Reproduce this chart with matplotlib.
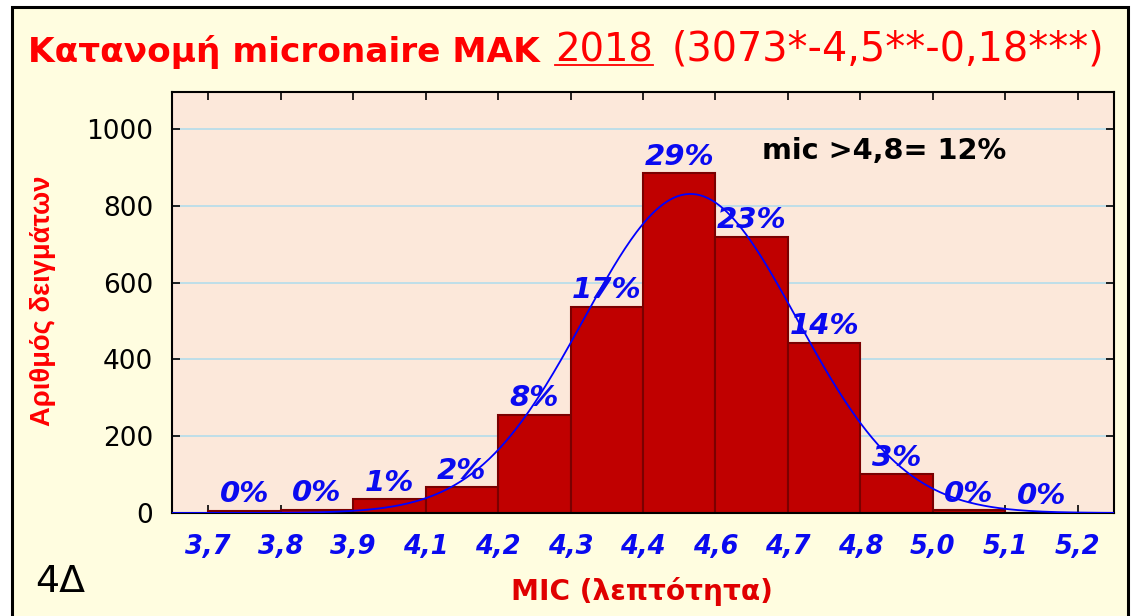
import numpy as np
import matplotlib
matplotlib.use('Agg')
import matplotlib.pyplot as plt
from matplotlib.patches import Rectangle
from matplotlib.lines import Line2D

# ---- data ----
bin_labels = ['3,7', '3,8', '3,9', '4,1', '4,2', '4,3', '4,4', '4,6', '4,7', '4,8', '5,0', '5,1', '5,2']
counts = [6, 9, 36, 67, 256, 538, 885, 720, 444, 102, 8, 1]
pct_labels = ['0%', '0%', '1%', '2%', '8%', '17%', '29%', '23%', '14%', '3%', '0%', '0%']
y_ticks = [0, 200, 400, 600, 800, 1000]

title_bold = 'Κατανομή micronaire ΜΑΚ'
title_year = '2018'
title_rest = '(3073*-4,5**-0,18***)'
note_text = 'mic >4,8= 12%'
xlabel = 'MIC (λεπτότητα)'
ylabel = 'Αριθμός δειγμάτων'
corner_text = '4Δ'

RED = '#FF0000'
BLUE = '#0A0AF0'

W, H = 1137, 616
fig = plt.figure(figsize=(W / 100, H / 100), dpi=100, facecolor='white')
border = Rectangle((12 / W, -0.05), (1128 - 12) / W, 1 - 7 / H + 0.05,
                   transform=fig.transFigure, facecolor='#FFFDE0',
                   edgecolor='black', lw=2.2, zorder=-5)
fig.patches.append(border)

ax = fig.add_axes([172 / W, 1 - 513 / H, (1114 - 172) / W, (513 - 92) / H])
ax.set_zorder(1)
ax.set_facecolor('#FCE8DA')

x = np.arange(len(counts))
ax.bar(x, counts, width=1, align='edge', color='#C00000',
       edgecolor='#7A0000', lw=1.5, zorder=2)

# fitted normal curve (from the binned data)
c = np.array(counts, dtype=float)
centers = x + 0.5
N = c.sum()
mean = (c * centers).sum() / N
sd = np.sqrt((c * (centers - mean) ** 2).sum() / N)
xs = np.linspace(-0.5, len(counts) + 0.5, 500)
ys = N / (sd * np.sqrt(2 * np.pi)) * np.exp(-(xs - mean) ** 2 / (2 * sd ** 2))
ax.plot(xs, ys, color='#0000FF', lw=1.3, zorder=3)

ax.set_xlim(-0.5, len(counts) + 0.5)
ax.set_ylim(0, 1097)
ax.set_xticks(np.arange(len(bin_labels)))
ax.set_xticklabels(bin_labels, fontsize=18.5, fontweight='bold',
                   fontstyle='italic', color=BLUE)
ax.set_yticks(y_ticks)
ax.set_yticklabels([str(v) for v in y_ticks], fontsize=19, color='black')
ax.tick_params(direction='in', top=True, right=True, length=6, width=1.2)
ax.tick_params(axis='x', pad=15)
ax.tick_params(axis='y', pad=13.5)
ax.yaxis.grid(True, color='#B3DDEC', lw=1.2)
ax.set_axisbelow(True)
for s in ax.spines.values():
    s.set_linewidth(1.5)
    s.set_color('black')

for i, (cv, lab) in enumerate(zip(counts, pct_labels)):
    ax.annotate(lab, (i + 0.5, cv), xytext=(0, 6), textcoords='offset points',
                ha='center', va='baseline', fontsize=21, fontweight='bold',
                fontstyle='italic', color=BLUE, zorder=4)

renderer = fig.canvas.get_renderer()


def fit_text(x0, x1, yb, s, **kw):
    t = fig.text(x0 / W, 1 - yb / H, s, ha='left', va='baseline',
                 fontsize=20, **kw)
    w = t.get_window_extent(renderer).width
    t.set_fontsize(20 * (x1 - x0) / w)
    return t


fit_text(28, 540, 62, title_bold, color=RED, fontweight='heavy')
fit_text(555, 653, 61, title_year, color=RED)
fig.add_artist(Line2D([555 / W, 653 / W], [1 - 64.5 / H, 1 - 64.5 / H],
                      transform=fig.transFigure, color=RED, lw=1.3))
fit_text(672, 1102, 61, title_rest, color=RED)

fit_text(762, 1007, 159, note_text, color='black', fontweight='bold')
fit_text(511, 773, 600, xlabel, color='#E00000', fontweight='bold')
fit_text(35, 85, 592, corner_text, color='black')

yl = fig.text(43.5 / W, 1 - 301 / H, ylabel, rotation=90, ha='center',
              va='center', fontsize=20, color=RED, fontweight='bold',
              family=['Liberation Sans', 'DejaVu Sans'])
h = yl.get_window_extent(renderer).height
yl.set_fontsize(20 * 250 / h)

fig.savefig('out.png', dpi=100, facecolor='white')
